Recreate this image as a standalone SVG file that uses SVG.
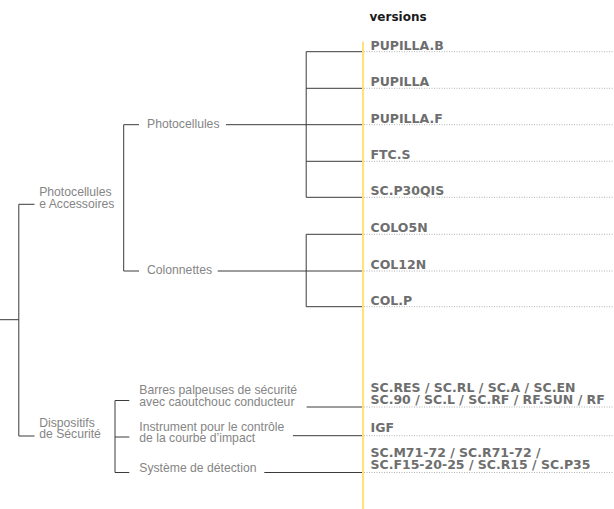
<svg xmlns="http://www.w3.org/2000/svg" width="614" height="509" viewBox="0 0 614 509">
<style>
.lbl{font-family:"Liberation Sans",Arial,sans-serif;font-size:12.2px;fill:#858585}
.code{font-family:"DejaVu Sans",sans-serif;font-weight:bold;font-size:12.5px;fill:#6e6e6e}
.hdr{font-family:"DejaVu Sans",sans-serif;font-weight:bold;font-size:12px;fill:#1a1a1a}
.ln{fill:none;stroke:#3a3a3a;stroke-width:1}
.dot{fill:none;stroke:#a0a0a0;stroke-width:0.8;stroke-dasharray:1 1.5}
</style>
<rect width="614" height="509" fill="#ffffff"/>
<g id="connectors">
  <path class="dot" d="M364,51.7H614M364,88.3H614M364,124.7H614M364,161.3H614M364,197.3H614M364,234.3H614M364,271H614M364,306.7H614M364,407H614M364,435.7H614M364,472.5H614"/>
  <path class="ln" d="M0,319.7H18.8M34.5,204.3H18.8V436H34.5"/>
  <path class="ln" d="M139,124.7H123.7V271H139"/>
  <path class="ln" d="M226,124.7H363M217.7,271H363"/>
  <path class="ln" d="M363,51.7H306.2V197.3H363M306.2,88.3H363M306.2,161.3H363"/>
  <path class="ln" d="M363,234.3H306.2V306.7H363"/>
  <path class="ln" d="M129.3,400.5H115V472.5H129.3M115,437H129.3"/>
  <path class="ln" d="M306.6,407H363M292.9,435.7H363M264.3,472.5H363"/>
  <line x1="363" y1="41.7" x2="363" y2="509" stroke="#ffe27a" stroke-width="2"/>
</g>
<g id="header"><text class="hdr" x="369.5" y="21">versions</text></g>
<g id="root-photocellules-accessoires"><text class="lbl" x="39.2" y="196.3">Photocellules</text><text class="lbl" x="39.2" y="207.5">e Accessoires</text></g>
<g id="root-dispositifs"><text class="lbl" x="39.2" y="426.5">Dispositifs</text><text class="lbl" x="39.2" y="437.7">de Sécurité</text></g>
<g id="photocellules"><text class="lbl" x="147" y="127.5">Photocellules</text></g>
<g id="colonnettes"><text class="lbl" x="147" y="274">Colonnettes</text></g>
<g id="barres"><text class="lbl" x="139.3" y="394.3">Barres palpeuses de sécurité</text><text class="lbl" x="139.3" y="405.5">avec caoutchouc conducteur</text></g>
<g id="instrument"><text class="lbl" x="139.3" y="431">Instrument pour le contrôle</text><text class="lbl" x="139.3" y="442.2">de la courbe d’impact</text></g>
<g id="systeme"><text class="lbl" x="139.3" y="472">Système de détection</text></g>
<g id="v-pupilla-b"><text class="code" x="370.5" y="49.7">PUPILLA.B</text></g>
<g id="v-pupilla"><text class="code" x="370.5" y="86.3">PUPILLA</text></g>
<g id="v-pupilla-f"><text class="code" x="370.5" y="122.7">PUPILLA.F</text></g>
<g id="v-ftc-s"><text class="code" x="370.5" y="159.3">FTC.S</text></g>
<g id="v-sc-p30qis"><text class="code" x="370.5" y="195.3">SC.P30QIS</text></g>
<g id="v-colo5n"><text class="code" x="370.5" y="232.3">COLO5N</text></g>
<g id="v-col12n"><text class="code" x="370.5" y="269">COL12N</text></g>
<g id="v-col-p"><text class="code" x="370.5" y="304.7">COL.P</text></g>
<g id="v-sc-res"><text class="code" x="370.5" y="391.5">SC.RES / SC.RL / SC.A / SC.EN</text><text class="code" x="370.5" y="403.5">SC.90 / SC.L / SC.RF / RF.SUN / RF</text></g>
<g id="v-igf"><text class="code" x="370.5" y="432">IGF</text></g>
<g id="v-sc-m71"><text class="code" x="370.5" y="456.5">SC.M71-72 / SC.R71-72 /</text><text class="code" x="370.5" y="469">SC.F15-20-25 / SC.R15 / SC.P35</text></g>
</svg>
